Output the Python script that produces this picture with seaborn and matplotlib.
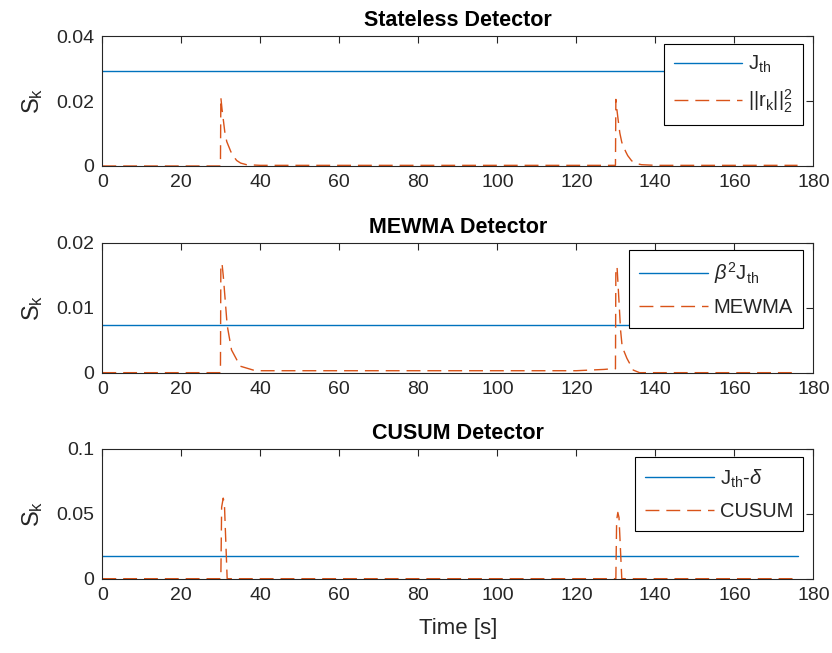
import matplotlib
matplotlib.use("Agg")
import matplotlib.pyplot as plt
import seaborn as sns

# ---- data ----
t_end = 176

# stateless detector: ||r_k||_2^2
stateless_t = [0, 29.9, 30.0, 30.3, 30.6, 31.0, 31.5, 32.0, 32.5, 33.0, 34.0, 35.0, 36.5, 40,
               60, 80, 100, 120, 129.9, 130.0, 130.3, 130.6, 131.0, 131.5, 132.0, 132.5,
               133.0, 134.0, 135.0, 136.5, 140, 160, 176]
stateless_s = [0, 0, 0.0211, 0.0175, 0.0145, 0.0105, 0.0075, 0.0060, 0.0045, 0.0033, 0.0017,
               0.0009, 0.0004, 0.0002, 0.0002, 0.0002, 0.0002, 0.0002, 0.0002, 0.0205, 0.0170,
               0.0140, 0.0102, 0.0073, 0.0058, 0.0044, 0.0032, 0.0016, 0.0008, 0.0004, 0.0002,
               0.0002, 0.0002]
j_th = 0.0293

# MEWMA detector
mewma_t = [0, 29.9, 30.0, 30.3, 30.6, 31.06, 31.6, 32.7, 34.9, 38.2, 40, 60, 80, 100, 120,
           127, 129, 129.9, 130.0, 130.3, 130.7, 131.2, 131.6, 132.8, 134.4, 136, 140, 160, 176]
mewma_s = [0, 0, 0.0165, 0.0168, 0.0150, 0.0115, 0.0073, 0.0035, 0.0010, 0.0004, 0.0003,
           0.0003, 0.0003, 0.0003, 0.0003, 0.0005, 0.0006, 0.0006, 0.0160, 0.0163, 0.0120,
           0.0065, 0.0040, 0.0022, 0.0004, 0, 0, 0, 0]
beta2_j_th = 0.0073

# CUSUM detector
cusum_t = [0, 30.0, 30.2, 30.6, 30.9, 31.6, 40, 60, 80, 100, 120, 130.0, 130.2, 130.5, 130.8,
           131.5, 140, 160, 176]
cusum_s = [0, 0, 0.055, 0.062, 0.058, 0, 0, 0, 0, 0, 0, 0, 0.045, 0.051, 0.047, 0, 0, 0, 0]
j_th_delta = 0.0173

panels = [
    ("Stateless Detector", stateless_t, stateless_s, j_th,
     r"$J_{th}$", r"$||r_k||_2^2$", (0, 0.04), [0, 0.02, 0.04], ["0", "0.02", "0.04"]),
    ("MEWMA Detector", mewma_t, mewma_s, beta2_j_th,
     r"$\mathit{\beta}^2 J_{th}$", "MEWMA", (0, 0.02), [0, 0.01, 0.02], ["0", "0.01", "0.02"]),
    ("CUSUM Detector", cusum_t, cusum_s, j_th_delta,
     r"$J_{th}$-$\mathit{\delta}$", "CUSUM", (0, 0.1), [0, 0.05, 0.1], ["0", "0.05", "0.1"]),
]

# ---- style ----
sns.set_theme(style="white")
plt.rcParams["font.family"] = ["Liberation Sans", "DejaVu Sans"]
plt.rcParams["mathtext.fontset"] = "custom"
plt.rcParams["mathtext.rm"] = "Liberation Sans"
plt.rcParams["mathtext.it"] = "Liberation Sans:italic"
plt.rcParams["mathtext.default"] = "regular"

blue = "#0072BD"
orange = "#D95319"
dark = "#262626"

fig = plt.figure(figsize=(8.32, 6.53), dpi=100)
bottoms = [0.7458, 0.4293, 0.1138]
legend_tops = [0.94, 0.941, 0.934]

for i, (title, t, s, thr, lab_thr, lab_s, ylim, yticks, yticklabels) in enumerate(panels):
    ax = fig.add_axes([0.123, bottoms[i], 0.8546, 0.199])
    sns.lineplot(x=[0, t_end], y=[thr, thr], ax=ax, color=blue, linewidth=1.0, label=lab_thr)
    sns.lineplot(x=t, y=s, ax=ax, color=orange, linewidth=1.0, linestyle=(0, (10, 5)),
                 label=lab_s, sort=False)
    ax.set_xlim(0, 180)
    ax.set_ylim(*ylim)
    ax.set_xticks(range(0, 181, 20))
    ax.set_yticks(yticks)
    ax.set_yticklabels(yticklabels)
    ax.tick_params(direction="in", top=True, right=True, length=5, width=0.8,
                   colors=dark, labelcolor=dark, labelsize=14, pad=6)
    for sp in ax.spines.values():
        sp.set_color(dark)
        sp.set_linewidth(0.8)
    ax.set_title(title, fontsize=15.5, fontweight="bold", color="black", pad=7)
    ax.set_ylabel(r"$S_k$", fontsize=17, color=dark, labelpad=8)
    if i == 2:
        ax.set_xlabel("Time [s]", fontsize=16, color=dark, labelpad=10)
    else:
        ax.set_xlabel("")
    leg = ax.legend(loc="upper right", bbox_to_anchor=(0.9855, legend_tops[i]),
                    borderaxespad=0, fontsize=14.5, frameon=True, fancybox=False,
                    framealpha=1, edgecolor="black", handlelength=3.4, handletextpad=0.3,
                    borderpad=0.5, labelspacing=0.6)
    leg.get_frame().set_linewidth(0.8)

fig.savefig("out.png", dpi=100)
